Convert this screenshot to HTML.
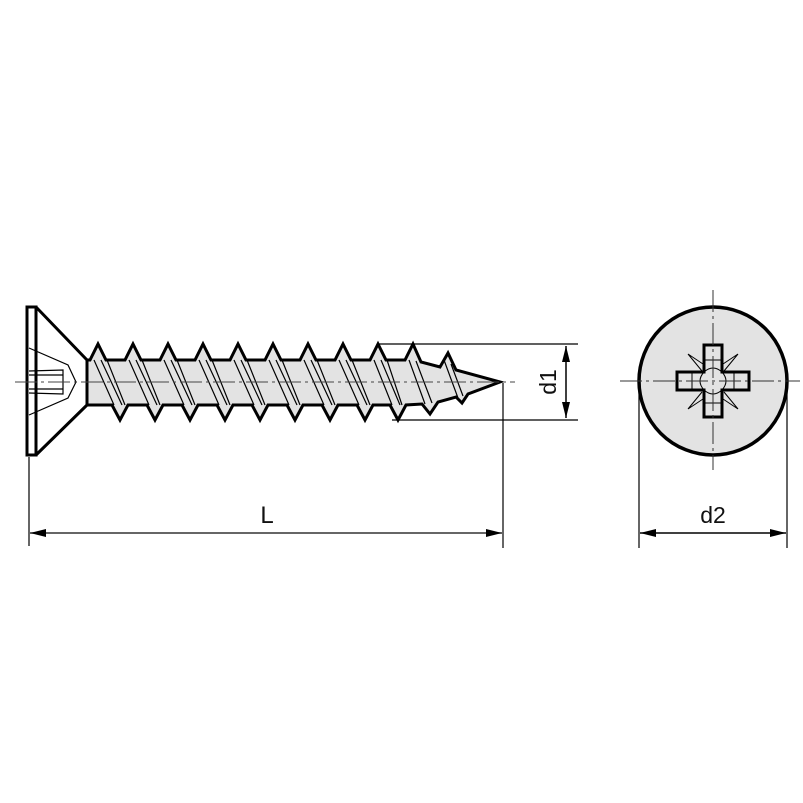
<!DOCTYPE html>
<html><head><meta charset="utf-8"><style>
html,body{margin:0;padding:0;background:#fff;}
svg{display:block}
text{font-family:"Liberation Sans",sans-serif;fill:#111}
</style></head><body>
<svg width="803" height="803" viewBox="0 0 803 803" xmlns="http://www.w3.org/2000/svg">
<defs>
<marker id="a" viewBox="0 0 16 8" refX="16" refY="4" markerWidth="16" markerHeight="8" markerUnits="userSpaceOnUse" orient="auto-start-reverse"><path d="M0,0 L16,4 L0,8 Z" fill="#000"/></marker>
</defs>
<!-- head -->
<rect x="27" y="307" width="9" height="148" fill="#fff" stroke="#000" stroke-width="3"/>
<path d="M36,307 L87,360 M36,455 L87,405" stroke="#000" stroke-width="3" fill="none"/>
<path d="M29,348 L68,365 L76,382 L68,398 L29,415 M29,371 L63,370 L63,394 L29,393 M29,375 L63,375 M29,389 L63,389" stroke="#000" stroke-width="1.2" fill="none"/>
<!-- shank with threads -->
<path d="M87,360 L90,360 L98,344 L106,360 L125,360 L133,344 L141,360 L160,360 L168,344 L176,360 L195,360 L203,344 L211,360 L230,360 L238,344 L246,360 L265,360 L273,344 L281,360 L300,360 L308,344 L316,360 L335,360 L343,344 L351,360 L370,360 L378,344 L386,360 L405,360 L413,344 L421,362 L440,367 L448,353 L456,370 L500,382 L468,394 L462,403 L456,397 L438,402 L430,414 L422,404 L406,405 L398,420 L390,405 L373,405 L365,420 L357,405 L338,405 L330,420 L322,405 L303,405 L295,420 L287,405 L268,405 L260,420 L252,405 L233,405 L225,420 L217,405 L198,405 L190,420 L182,405 L163,405 L155,420 L147,405 L128,405 L120,420 L112,405 L87,405 Z" fill="#e3e3e3" stroke="#000" stroke-width="3" stroke-linejoin="miter"/>
<g stroke="#000" stroke-width="1.2">
<path d="M94,360 L114,405 M101,360 L122,405 M107,360 L125,405
M129,360 L149,405 M136,360 L157,405 M142,360 L160,405
M164,360 L184,405 M171,360 L192,405 M177,360 L195,405
M199,360 L219,405 M206,360 L227,405 M212,360 L230,405
M234,360 L254,405 M241,360 L262,405 M247,360 L265,405
M269,360 L289,405 M276,360 L297,405 M282,360 L300,405
M304,360 L324,405 M311,360 L332,405 M317,360 L335,405
M339,360 L359,405 M346,360 L367,405 M352,360 L370,405
M374,360 L392,405 M381,360 L400,405 M387,360 L402,405
M409,360 L425,404 M416,361 L432,403 M444,360 L458,398 M451,364 L463,396"/>
</g>
<!-- centerline -->
<path d="M15,382 L515,382" stroke="#444" stroke-width="1" stroke-dasharray="22,4,3,4"/>
<!-- d1 dimension -->
<path d="M378,344 L578,344 M392,420 L578,420" stroke="#000" stroke-width="1.2"/>
<line x1="566" y1="346" x2="566" y2="418" stroke="#000" stroke-width="1.5" marker-start="url(#a)" marker-end="url(#a)"/>
<text x="0" y="0" font-size="23" text-anchor="middle" transform="translate(556,382) rotate(-90)">d1</text>
<!-- L dimension -->
<path d="M29,457 L29,546 M503,383 L503,548" stroke="#000" stroke-width="1.2"/>
<line x1="30" y1="533" x2="502" y2="533" stroke="#333" stroke-width="1.5" marker-start="url(#a)" marker-end="url(#a)"/>
<text x="267" y="523" font-size="24" text-anchor="middle">L</text>
<!-- top view -->
<circle cx="713" cy="381" r="74" fill="#e3e3e3" stroke="#000" stroke-width="3.5"/>
<path d="M702,371 L688,354 L706,366 M724,371 L738,354 L720,366 M702,392 L688,409 L706,397 M724,392 L738,409 L720,397" stroke="#000" stroke-width="1" fill="none"/>
<path d="M704,345 L722,345 L722,372 L749,372 L749,390 L722,390 L722,417 L704,417 L704,390 L677,390 L677,372 L704,372 Z" fill="#e3e3e3" stroke="#000" stroke-width="3"/>
<path d="M704,360 L722,360 M704,403 L722,403 M692,372 L692,390 M734,372 L734,390 M704,372 Q713,364 722,372 Q730,381 722,390 Q713,398 704,390 Q696,381 704,372" stroke="#000" stroke-width="1" fill="none"/>
<path d="M620,381 L800,381" stroke="#333" stroke-width="1" stroke-dasharray="22,4,3,4"/>
<path d="M713,290 L713,470" stroke="#333" stroke-width="1" stroke-dasharray="22,4,3,4"/>
<!-- d2 dimension -->
<path d="M639,383 L639,548 M787,383 L787,548" stroke="#000" stroke-width="1.2"/>
<line x1="640" y1="533" x2="786" y2="533" stroke="#000" stroke-width="1.5" marker-start="url(#a)" marker-end="url(#a)"/>
<text x="713" y="523" font-size="23" text-anchor="middle">d2</text>
</svg>
</body></html>
